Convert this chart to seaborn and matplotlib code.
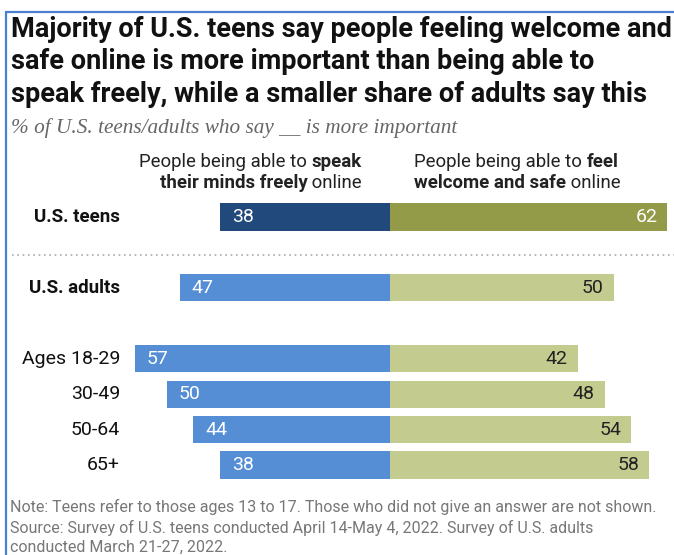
import matplotlib
matplotlib.use("Agg")
import matplotlib.pyplot as plt
import seaborn as sns
import pandas as pd
from matplotlib import font_manager as fm
from matplotlib.lines import Line2D

sns.set_theme(style="white")
names = {f.name for f in fm.fontManager.ttflist}
NARROW = "Liberation Sans Narrow" if "Liberation Sans Narrow" in names else "Roboto"
plt.rcParams["font.family"] = [NARROW, "DejaVu Sans"]

# ---- data ----
teen_cats = ["U.S. teens"]
teen_speak = [38]
teen_safe = [62]
adult_cats = ["U.S. adults", "Ages 18-29", "30-49", "50-64", "65+"]
adult_speak = [47, 57, 50, 44, 38]
adult_safe = [50, 42, 48, 54, 58]
order = ["U.S. teens", "", "U.S. adults", " ", "Ages 18-29", "30-49", "50-64", "65+"]
bold_rows = ["U.S. teens", "U.S. adults"]

title = ("Majority of U.S. teens say people feeling welcome and\n"
         "safe online is more important than being able to\n"
         "speak freely, while a smaller share of adults say this")
subtitle = "% of U.S. teens/adults who say __ is more important"
note = ("Note: Teens refer to those ages 13 to 17. Those who did not give an answer are not shown.\n"
        "Source: Survey of U.S. teens conducted April 14-May 4, 2022. Survey of U.S. adults\n"
        "conducted March 21-27, 2022.")

W, H = 674, 555
fig = plt.figure(figsize=(W / 100, H / 100), dpi=100)
ax = fig.add_axes([0, 0, 1, 1])

teen_df = pd.DataFrame({"cat": teen_cats, "speak": [-v for v in teen_speak], "safe": teen_safe})
adult_df = pd.DataFrame({"cat": adult_cats, "speak": [-v for v in adult_speak], "safe": adult_safe})

bw = 0.77
kw = dict(order=order, width=bw, ax=ax, linewidth=0, orient="h")
sns.barplot(data=teen_df, y="cat", x="speak", color="#22497C", saturation=1, **kw)
sns.barplot(data=teen_df, y="cat", x="safe", color="#949B48", saturation=1, **kw)
sns.barplot(data=adult_df, y="cat", x="speak", color="#558ED5", saturation=1, **kw)
sns.barplot(data=adult_df, y="cat", x="safe", color="#C4CB8F", saturation=1, **kw)

pxu = 4.47
cx = 390
ax.set_xlim(-cx / pxu, (W - cx) / pxu)
ypx = 35.43
y0 = 217
ax.set_ylim(7 + (H - 465) / ypx, -y0 / ypx)
ax.axis("off")

def px(xp, yp):
    return (xp / W, 1 - yp / H)

VFS = 14
# value labels
pos = {c: i for i, c in enumerate(order)}
for c, s, f in zip(teen_cats, teen_speak, teen_safe):
    ax.text(-s + 2.6, pos[c], str(s), color="white", va="center", ha="left", fontsize=VFS)
    ax.text(f - 2.2, pos[c], str(f), color="white", va="center", ha="right", fontsize=VFS)
for c, s, f in zip(adult_cats, adult_speak, adult_safe):
    ax.text(-s + 2.6, pos[c], str(s), color="white", va="center", ha="left", fontsize=VFS)
    ax.text(f - 2.2, pos[c], str(f), color="#222222", va="center", ha="right", fontsize=VFS)

# row labels
for c in teen_cats + adult_cats:
    bold = c in bold_rows
    ax.text(120 / W, pos[c], c, transform=ax.get_yaxis_transform(), ha="right",
            va="center", fontsize=13.5 if bold else 14, fontweight="bold" if bold else "normal",
            color="#111111")

# dotted separator
fig.add_artist(Line2D([12 / W, 1], [1 - 255 / H] * 2, color="#AAAAAA", lw=1.2,
                      linestyle=(0, (1, 2.2))))

# border
fig.add_artist(Line2D([6 / W, 6 / W], [0, 1 - 11.5 / H], color="#4A7FD0", lw=1.6))
fig.add_artist(Line2D([6 / W, 1], [1 - 11.5 / H] * 2, color="#4A7FD0", lw=1.6))

# title / subtitle / notes
fig.text(*px(11, 16), title, ha="left", va="top", fontsize=19.5, fontweight="bold",
         color="#111111", linespacing=1.26)
fig.text(*px(11, 128), subtitle, ha="left", va="center", fontsize=15.3, style="italic",
         family=["Liberation Serif", "DejaVu Serif"], color="#666666")
fig.text(*px(10, 499), note, ha="left", va="top", fontsize=11.5, color="#777777",
         linespacing=1.35)

# column headers with mixed weights
fig.canvas.draw()
renderer = fig.canvas.get_renderer()
FS = 13.4

def line_right(xr, yp, parts):
    x = xr
    for txt, bold in reversed(parts):
        t = fig.text(x / W, 1 - yp / H, txt, ha="right", va="center", fontsize=FS,
                     fontweight="bold" if bold else "normal", color="#222222")
        bb = t.get_window_extent(renderer)
        x = x - bb.width

def line_left(xl, yp, parts):
    x = xl
    for txt, bold in parts:
        t = fig.text(x / W, 1 - yp / H, txt, ha="left", va="center", fontsize=FS,
                     fontweight="bold" if bold else "normal", color="#222222")
        bb = t.get_window_extent(renderer)
        x = x + bb.width

line_right(362, 162, [("People being able to ", False), ("speak", True)])
line_right(362, 183, [("their minds freely", True), (" online", False)])
line_left(414, 162, [("People being able to ", False), ("feel", True)])
line_left(414, 183, [("welcome and safe", True), (" online", False)])

fig.savefig("out.png", dpi=100)
